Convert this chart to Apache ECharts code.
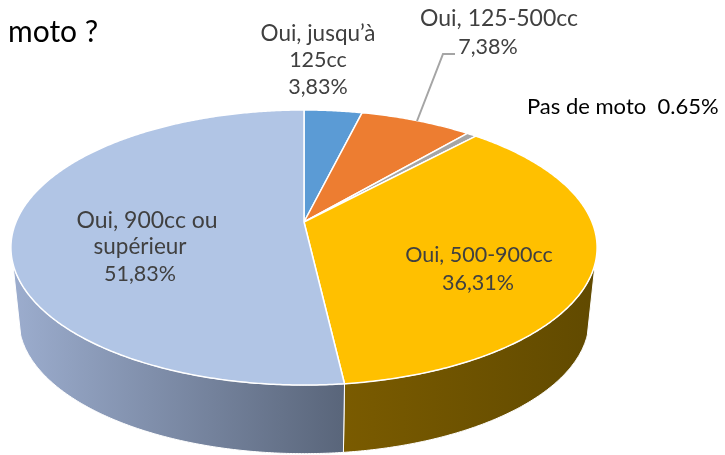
<!DOCTYPE html>
<html>
<head>
<meta charset="utf-8">
<style>
html,body{margin:0;padding:0;background:#fff;}
#main{width:725px;height:455px;}
</style>
<script src="https://cdn.jsdelivr.net/npm/echarts@6/dist/echarts.min.js"></script>
</head>
<body>
<div id="main"></div>
<script>
// parts, in clockwise order from 12 o'clock
var categories = ['Oui, jusqu\u2019à 125cc', 'Oui, 125-500cc', 'Pas de moto', 'Oui, 500-900cc', 'Oui, 900cc ou supérieur'];
var shares = [3.83, 7.38, 0.65, 36.31, 51.83];
var topColors = ['#5b9bd5', '#ed7d31', '#a5a5a5', '#ffc000', '#b1c5e5'];
var wallColors = [
    ['#37608a', '#37608a'],
    ['#8f4b1d', '#8f4b1d'],
    ['#636363', '#636363'],
    ['#7a5b00', '#614a00'],
    ['#9cadce', '#59657a']
];

var chart = echarts.init(document.getElementById('main'));

// tilted disc: circle seen in perspective, apex is not the centre of the ellipse
var cx = 304, cy = 222, ra = 288, rb = 132.8, persp = 0.1855;
var depth = 73, bottomScale = 0.973;
// part of the rim that is facing us (degrees)
var wallFrom = 107, wallTo = 253;

function project(deg, scale, dy) {
    var t = deg * Math.PI / 180;
    var w = 1 + persp * Math.cos(t);
    return [cx + scale * ra * Math.sin(t) / w, cy + dy - scale * rb * Math.cos(t) / w];
}

function startAngle(i) {
    var sum = 0;
    for (var k = 0; k < i; k++) sum += shares[k];
    return sum * 3.6;
}

function renderTop(params, api) {
    var i = params.dataIndex;
    var a = startAngle(i), b = a + api.value(1) * 3.6;
    var pts = [[cx, cy]];
    for (var d = a; d < b; d += 0.5) pts.push(project(d, 1, 0));
    pts.push(project(b, 1, 0));
    return {
        type: 'polygon',
        shape: { points: pts },
        style: { fill: topColors[i], stroke: '#fff', lineWidth: 1.5, lineJoin: 'round' }
    };
}

function renderWall(params, api) {
    var i = params.dataIndex;
    var a = Math.max(startAngle(i), wallFrom);
    var b = Math.min(startAngle(i) + api.value(1) * 3.6, wallTo);
    if (b <= a) return null;
    var upper = [], lower = [];
    for (var d = a; d < b; d += 0.5) {
        upper.push(project(d, 1, 0));
        lower.unshift(project(d, bottomScale, depth));
    }
    upper.push(project(b, 1, 0));
    lower.unshift(project(b, bottomScale, depth));
    return {
        type: 'polygon',
        shape: { points: upper.concat(lower) },
        style: {
            fill: new echarts.graphic.LinearGradient(0, 0, 1, 0, [
                { offset: 0, color: wallColors[i][0] },
                { offset: 1, color: wallColors[i][1] }
            ]),
            stroke: '#fff',
            lineWidth: 1,
            lineJoin: 'round'
        }
    };
}

var seriesData = categories.map(function (name, i) {
    return { name: name, value: [i, shares[i]] };
});

var labelFont = 'Lato, "Open Sans", sans-serif';

function label(txt, x, y, color, size, align) {
    return {
        type: 'text',
        z: 10,
        x: x,
        y: y,
        style: {
            text: txt,
            fill: color || '#404040',
            font: (size || 21.5) + 'px ' + labelFont,
            align: align || 'center',
            verticalAlign: 'middle'
        }
    };
}

var option = {
    animation: false,
    backgroundColor: '#fff',
    tooltip: { show: false },
    graphic: [
        label('moto ?', 8, 32, '#000', 30, 'left'),
        label('Oui, jusqu\u2019à', 318, 34, null, 22.5),
        label('125cc', 318, 60),
        label('3,83%', 318, 87),
        label('Oui, 125-500cc', 499, 19, null, 23),
        label('7,38%', 488, 47),
        label('Pas de moto  0.65%', 527, 107, '#000', 22, 'left'),
        label('Oui, 900cc ou', 147, 221, null, 23),
        label('supérieur', 140, 247, null, 22.5),
        label('51,83%', 140, 274),
        label('Oui, 500-900cc', 479, 255),
        label('36,31%', 478, 283),
        {
            // leader line for the 125-500cc label
            type: 'polyline',
            z: 9,
            shape: { points: [[417, 121], [443, 54], [455, 54]] },
            style: { stroke: '#a5a5a5', lineWidth: 2, fill: null }
        }
    ],
    series: [
        {
            type: 'custom',
            coordinateSystem: 'none',
            z: 1,
            silent: true,
            renderItem: renderWall,
            data: seriesData
        },
        {
            type: 'custom',
            coordinateSystem: 'none',
            z: 2,
            silent: true,
            renderItem: renderTop,
            data: seriesData
        }
    ]
};

chart.setOption(option);
</script>
</body>
</html>
